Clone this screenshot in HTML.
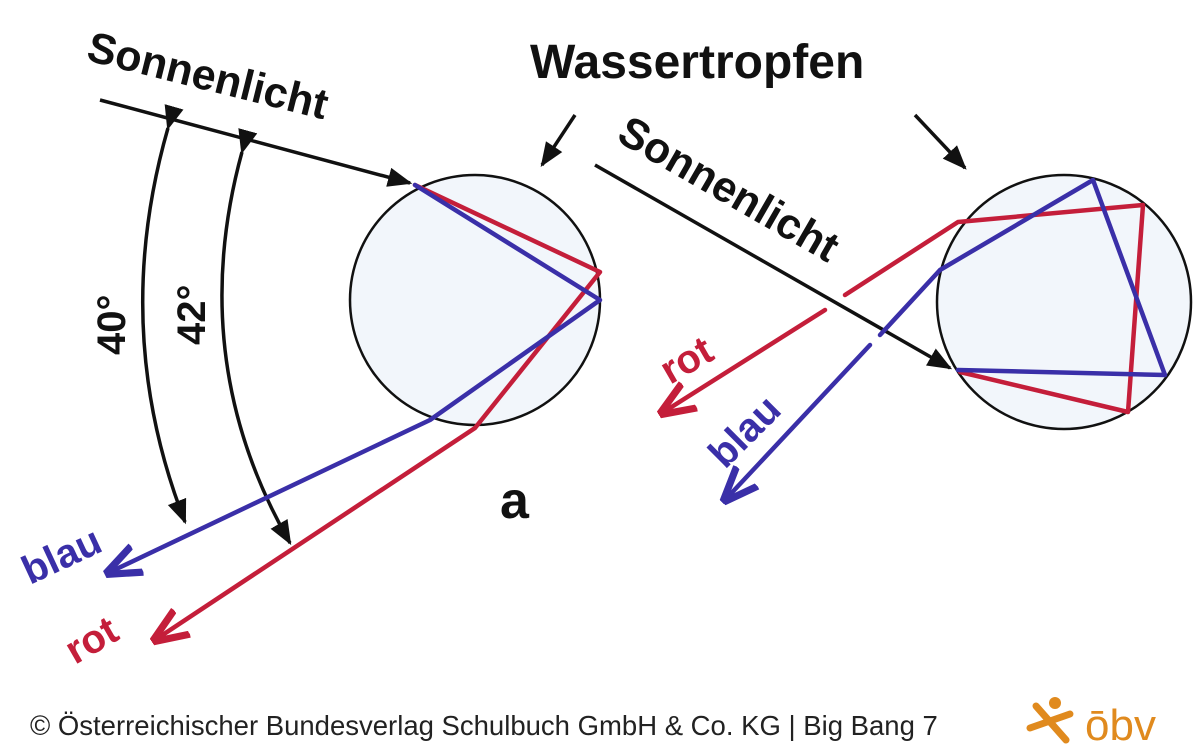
<!DOCTYPE html>
<html><head><meta charset="utf-8"><style>
html,body{margin:0;padding:0;background:#fff;}
svg{display:block;}
</style></head><body>
<svg width="1200" height="756" viewBox="0 0 1200 756" xmlns="http://www.w3.org/2000/svg">
<defs>
<marker id="ak" viewBox="0 0 10 10" refX="9" refY="5" markerWidth="7" markerHeight="7" orient="auto"><path d="M0,1 L10,5 L0,9 Z" fill="#111"/></marker>
<marker id="ar" viewBox="0 0 10 10" refX="9" refY="5" markerWidth="8" markerHeight="8" orient="auto"><path d="M0,1 L10,5 L0,9" fill="none" stroke="#c41e3a" stroke-width="2"/></marker>
<marker id="ab" viewBox="0 0 10 10" refX="9" refY="5" markerWidth="8" markerHeight="8" orient="auto"><path d="M0,1 L10,5 L0,9" fill="none" stroke="#3a2fa8" stroke-width="2"/></marker>
</defs>
<g font-family="Liberation Sans, sans-serif" font-weight="bold" fill="#111">
<text x="85" y="60" font-size="43" transform="rotate(14 85 60)">Sonnenlicht</text>
<text x="530" y="78" font-size="48">Wassertropfen</text>
<text x="615" y="140" font-size="43" transform="rotate(30 615 140)">Sonnenlicht</text>
<text x="500" y="518" font-size="52">a</text>
<text x="125" y="355" font-size="40" transform="rotate(-90 125 355)">40°</text>
<text x="205" y="345" font-size="40" transform="rotate(-90 205 345)">42°</text>
</g>
<g font-family="Liberation Sans, sans-serif" font-weight="bold" font-size="40">
<text x="30" y="585" fill="#3a2fa8" transform="rotate(-25 30 585)">blau</text>
<text x="75" y="665" fill="#c41e3a" transform="rotate(-30 75 665)">rot</text>
<text x="670" y="385" fill="#c41e3a" transform="rotate(-30 670 385)">rot</text>
<text x="725" y="470" fill="#3a2fa8" transform="rotate(-45 725 470)">blau</text>
</g>
<circle cx="475" cy="300" r="125" fill="#f2f6fb" stroke="#111" stroke-width="2.5"/>
<circle cx="1064" cy="302" r="127" fill="#f2f6fb" stroke="#111" stroke-width="2.5"/>
<g stroke="#111" stroke-width="3.5" fill="none">
<line x1="100" y1="100" x2="410" y2="183" marker-end="url(#ak)"/>
<line x1="595" y1="165" x2="950" y2="368" marker-end="url(#ak)"/>
<line x1="575" y1="115" x2="542" y2="165" marker-end="url(#ak)"/>
<line x1="915" y1="115" x2="965" y2="168" marker-end="url(#ak)"/>
<path d="M168,128 Q110,330 185,522" marker-end="url(#ak)" marker-start="url(#ak)"/>
<path d="M242,152 Q185,360 290,543" marker-end="url(#ak)" marker-start="url(#ak)"/>
</g>
<g fill="none" stroke-width="4.5" stroke-linecap="round" stroke-linejoin="round">
<path d="M415,185 L600,272 L475,428 L155,640" stroke="#c41e3a" marker-end="url(#ar)"/>
<path d="M415,185 L600,300 L430,420 L108,573" stroke="#3a2fa8" marker-end="url(#ab)"/>
<path d="M845,295 L958,222 L1143,205 L1128,412 L960,372" stroke="#c41e3a"/>
<path d="M958,370 L1165,375 L1093,180 L940,270 L880,335" stroke="#3a2fa8"/>
<path d="M825,310 L662,413" stroke="#c41e3a" marker-end="url(#ar)"/>
<path d="M870,345 L725,500" stroke="#3a2fa8" marker-end="url(#ab)"/>
</g>
<text x="30" y="735" font-family="Liberation Sans, sans-serif" font-size="27.5" fill="#222">© Österreichischer Bundesverlag Schulbuch GmbH &amp; Co. KG |  Big Bang 7</text>
<g stroke="#e08a1e" stroke-width="7" stroke-linecap="round">
<line x1="1036" y1="706" x2="1066" y2="740"/>
<line x1="1030" y1="728" x2="1070" y2="714"/>
</g>
<circle cx="1055" cy="703" r="6" fill="#e08a1e"/>
<text x="1085" y="740" font-family="Liberation Sans, sans-serif" font-size="44" fill="#e08a1e">ōbv</text>
</svg>
</body></html>
